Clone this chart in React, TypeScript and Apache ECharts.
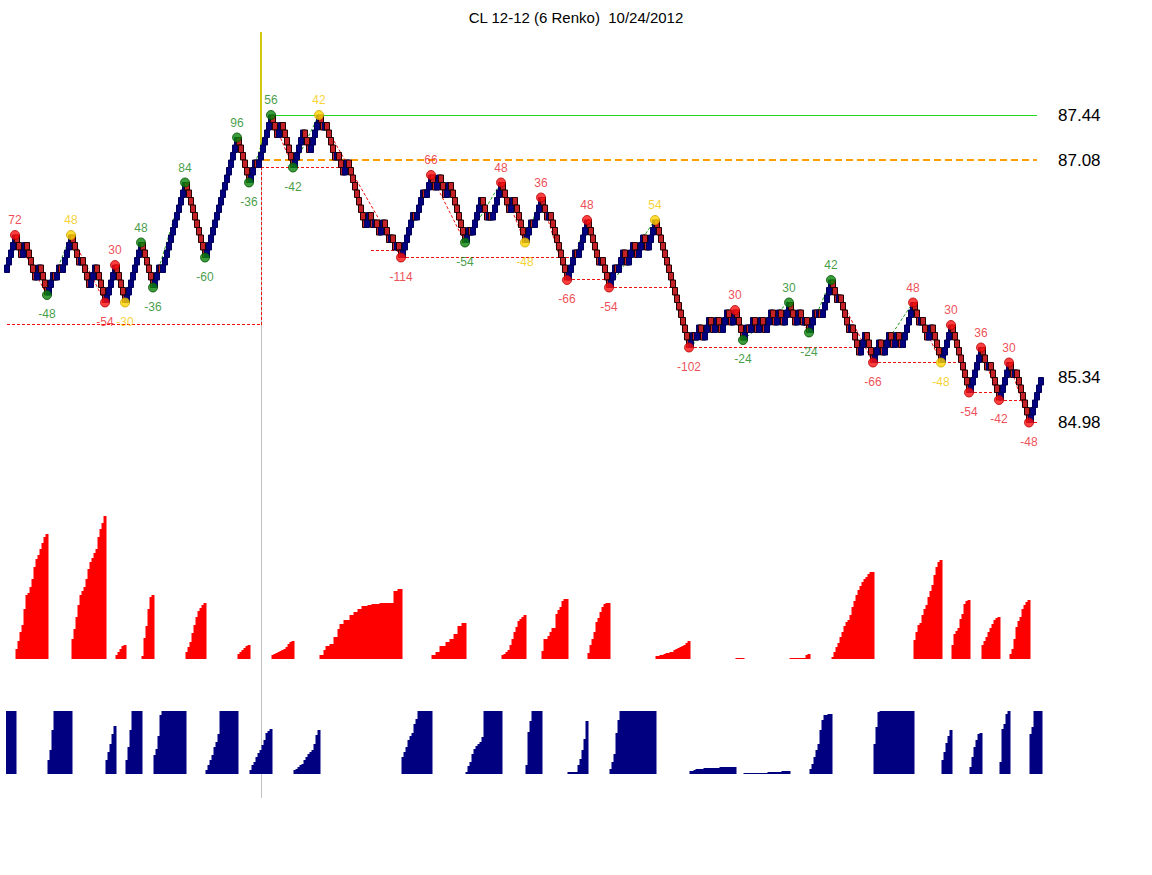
import React, { useEffect, useRef } from "react";
import * as echarts from "echarts";

const TITLE = "CL 12-12 (6 Renko)  10/24/2012";
const FONT = "Liberation Sans, Arial, sans-serif";
const BASE_PRICE = 87.44; // price of brick level 0
const BRICK_SIZE = 0.06;
const START_LEVEL = -21;
const SESSION_BRICK = 127;
const EXTRA_SLOTS = 2;

// signed brick runs for each zigzag wave (even = up wave, odd = down wave)
const waveRuns: number[][] = [
  [5],
  [-3, 2, -5, 2, -4],
  [3, -1, 2, -1, 5],
  [-4, 1, -4, 3, -5],
  [5],
  [-5],
  [8],
  [-6],
  [3, -1, 12],
  [-10],
  [16],
  [-6],
  [3, -1, 7],
  [-3, 2, -6],
  [5, -3, 5],
  [-2, 1, -5, 1, -3, 2, -9, 2, -2, 1, -2, 2, -3, 1, -2, 1, -2],
  [6, -1, 4, -1, 3],
  [-2, 2, -3, 2, -8],
  [2, -1, 5, -3, 1, -1, 5],
  [-4, 2, -6],
  [3, -1, 4],
  [-3, 1, -9],
  [4, -1, 5],
  [-6, 1, -4],
  [3, -1, 3, -2, 3, -2, 3, -2, 4],
  [-17],
  [2, -1, 2, -2, 3, -2, 2, -2, 3, -2, 2],
  [-4],
  [2, -1, 2, -2, 2, -2, 3, -2, 2, -2, 3],
  [-3, 2, -2, 1, -2],
  [3, -1, 1, -1, 5],
  [-3, 1, -5, 1, -4, 3, -4],
  [3, -2, 3, -2, 2, -2, 6],
  [-3, 1, -3, 2, -5],
  [5],
  [-9],
  [6],
  [-3, 1, -5],
  [5],
  [-2, 1, -7],
  [6],
];

// cumulative wave volume per brick (panel units)
const waveVolumes: number[][] = [
  [66, 68, 70, 72, 74],
  [10, 18, 27, 34, 50, 64, 66, 72, 80, 92, 100, 104, 110, 116, 122, 125],
  [14, 24, 44, 64, 70, 76, 82, 88, 92, 96, 100, 104],
  [20, 30, 42, 54, 64, 68, 72, 80, 90, 97, 101, 106, 110, 122, 130, 136, 143],
  [14, 22, 30, 40, 48],
  [4, 7, 10, 13, 14],
  [14, 27, 44, 64, 70, 75, 80, 85],
  [3, 21, 33, 50, 62, 64],
  [19, 25, 38, 59, 66, 72, 78, 84, 90, 95, 100, 104, 108, 112, 116, 120],
  [7, 12, 17, 26, 34, 42, 48, 51, 54, 56],
  [4, 9, 14, 19, 27, 32, 40, 64, 70, 76, 82, 88, 94, 100, 106, 112],
  [5, 7, 9, 11, 13, 14],
  [4, 9, 12, 17, 21, 24, 29, 34, 41, 43, 45],
  [4, 5, 6, 7, 8, 9, 10, 12, 15, 17, 18],
  [4, 5, 7, 9, 10, 14, 17, 20, 22, 24, 30, 39, 44],
  [4, 4, 9, 13, 13, 15, 15, 22, 22, 30, 35, 35, 39, 39, 39, 44, 44, 47, 47, 50, 50, 53, 53, 53, 54, 54, 55, 55, 55, 55, 56, 56, 56, 56, 56, 56, 56, 68, 68, 70, 70],
  [17, 22, 27, 34, 38, 41, 50, 55, 64, 68, 72, 76, 80, 84, 88],
  [4, 4, 7, 7, 13, 13, 13, 17, 17, 20, 20, 25, 25, 33, 33, 36, 36],
  [2, 8, 12, 20, 25, 28, 30, 32, 37, 64, 68, 72, 76, 80, 84, 88, 92, 96],
  [4, 5, 7, 9, 14, 20, 27, 32, 38, 40, 42, 44],
  [9, 42, 53, 64, 70, 76, 82, 88],
  [8, 20, 20, 23, 27, 31, 31, 45, 49, 52, 58, 60, 60],
  [2, 2, 2, 2, 2, 9, 15, 24, 35, 53],
  [6, 14, 20, 27, 37, 41, 47, 52, 55, 56, 56],
  [5, 12, 20, 41, 54, 64, 68, 72, 76, 80, 84, 88, 92, 96, 100, 104, 108, 112, 116, 120, 124, 128, 132],
  [3, 3, 4, 4, 5, 6, 6, 7, 7, 9, 10, 11, 12, 13, 14, 16, 18],
  [3, 3, 4, 5, 5, 5, 5, 6, 6, 6, 6, 6, 6, 6, 6, 7, 7, 7, 7, 7, 7, 7, 7],
  [1, 1, 1, 1],
  [1, 1, 1, 1, 1, 1, 1, 1, 1, 1, 1, 1, 2, 2, 2, 2, 2, 2, 2, 3, 3, 3, 3],
  [1, 1, 1, 1, 1, 1, 1, 1, 4, 5],
  [5, 10, 17, 24, 30, 44, 54, 59, 59, 60, 60],
  [2, 7, 12, 16, 22, 27, 33, 37, 39, 44, 52, 58, 64, 69, 73, 77, 80, 82, 85, 87, 87],
  [30, 47, 62, 66, 70, 74, 78, 82, 86, 90, 94, 98, 102, 106, 110, 114, 118, 122, 126, 130],
  [19, 27, 34, 36, 44, 50, 54, 62, 68, 74, 84, 92, 97, 99],
  [14, 22, 31, 38, 44],
  [14, 25, 28, 31, 40, 45, 55, 58, 59],
  [7, 17, 27, 34, 40, 41],
  [14, 18, 22, 27, 31, 35, 39, 41, 42],
  [12, 45, 50, 60, 63],
  [5, 10, 20, 32, 38, 42, 50, 54, 57, 59],
  [40, 47, 64, 68, 72, 76],
];

// swing labels (ticks) at the end of each wave
const pivotLabels: string[] = [
  "72", "-48", "48", "-54", "30", "-30", "48", "-36", "84", "-60",
  "96", "-36", "56", "-42", "42", "-114", "66", "-54", "48", "-48",
  "36", "-66", "48", "-54", "54", "-102", "30", "-24", "30", "-24",
  "42", "-66", "48", "-48", "30", "-54", "36", "-42", "30", "-48",
];
const pivotColors: string[] = [
  "r", "g", "y", "r", "r", "y", "g", "g", "g", "g",
  "g", "g", "g", "g", "y", "r", "r", "g", "r", "y",
  "r", "r", "r", "r", "y", "r", "r", "g", "g", "g",
  "g", "r", "r", "y", "r", "r", "r", "r", "r", "r",
];

// red dashed support segments: [brick1, level1, brick2, level2]
const supportSegments: number[][] = [
  [0, -28, 127, -28],
  [127, -28, 127, -7],
  [127, -7, 166, -7],
  [182, -18, 197, -18],
  [197, -19, 281, -19],
  [280, -22, 302, -22],
  [301, -23, 333, -23],
  [341, -31, 426, -31],
  [433, -33, 475, -33],
  [481, -37, 495, -37],
  [496, -38, 508, -38],
  [511, -41, 515, -41],
];
const greenLevel = [132, 0, 515];
const orangeLevel = [128, -6, 515];
const priceMarks = ["87.44", "87.08", "85.34", "84.98"];

const PALETTE: Record<string, { fill: string; border: string; text: string }> = {
  r: { fill: "#FF1010", border: "#B00000", text: "#E8202A" },
  g: { fill: "#0A840A", border: "#035003", text: "#128412" },
  y: { fill: "#FFD400", border: "#C9A400", text: "#F4C800" },
};

const price = (k: number) => +(BASE_PRICE + k * BRICK_SIZE).toFixed(4);

function buildData() {
  const candles: number[][] = [];
  const red: (number | string)[] = [];
  const blue: (number | string)[] = [];
  const pivots: { idx: number; k: number }[] = [];
  let lvl = START_LEVEL;
  waveRuns.forEach((runs, w) => {
    const vols = waveVolumes[w];
    const down = w % 2 === 1;
    let j = 0;
    runs.forEach((r) => {
      const d = Math.sign(r);
      for (let i = 0; i < Math.abs(r); i++) {
        const o = price(lvl);
        const c = price(lvl + d);
        candles.push([o, c, Math.min(o, c), Math.max(o, c)]);
        lvl += d;
        const v = vols[j] !== undefined ? vols[j] : 0;
        j++;
        red.push(down ? v : "-");
        blue.push(down ? "-" : v);
      }
    });
    pivots.push({ idx: candles.length - 1, k: lvl });
  });
  return { candles, red, blue, pivots };
}

// straight segments [x1, y1, x2, y2] drawn through the axes of a grid
function segmentSeries(data: number[][], color: string, width: number, dash: number[] | null, z: number, axis = 0) {
  const snap = (v: number) => (width % 2 === 1 ? Math.round(v - 0.5) + 0.5 : Math.round(v));
  return {
    type: "custom",
    xAxisIndex: axis,
    yAxisIndex: axis,
    silent: true,
    z,
    clip: false,
    encode: { x: [0, 2], y: [1, 3] },
    data,
    renderItem: (params: any, api: any) => {
      const p1 = api.coord([api.value(0), api.value(1)]);
      const p2 = api.coord([api.value(2), api.value(3)]);
      let x1 = p1[0], y1 = p1[1], x2 = p2[0], y2 = p2[1];
      if (Math.abs(y1 - y2) < 0.01) {
        y1 = y2 = snap(y1);
      }
      if (Math.abs(x1 - x2) < 0.01) {
        x1 = x2 = snap(x1);
      }
      return {
        type: "line",
        shape: { x1, y1, x2, y2 },
        style: { stroke: color, lineWidth: width, lineDash: dash || undefined, fill: null },
      };
    },
  };
}

export default function App() {
  const ref = useRef<HTMLDivElement>(null);
  useEffect(() => {
    document.body.style.margin = "0";
    if (!ref.current) return;
    const chart = echarts.init(ref.current, undefined, { renderer: "svg" });
    const { candles, red, blue, pivots } = buildData();
    const n = candles.length + EXTRA_SLOTS;
    const cats = Array.from({ length: n }, (_, i) => String(i));

    const left = 6;
    const slot = 2;
    const width = n * slot;
    const mainTop = 32;
    const mainHeight = 468;
    const kTop = (115 - mainTop) / 7.5;
    const kBottom = kTop - mainHeight / 7.5;
    const yMax = price(kTop);
    const yMin = price(kBottom);

    const grids = [
      { left, top: mainTop, width, height: mainHeight },
      { left, top: 514, width, height: 145 },
      { left, top: 711, width, height: 63 },
      { left, top: 32, width, height: 766 },
    ];
    const xAxes = grids.map((_, i) => ({
      type: "category",
      gridIndex: i,
      data: cats,
      show: false,
      boundaryGap: true,
    }));
    const yAxes = [
      { type: "value", gridIndex: 0, min: yMin, max: yMax, show: false, splitLine: { show: false } },
      { type: "value", gridIndex: 1, min: 0, max: 145, show: false, splitLine: { show: false } },
      { type: "value", gridIndex: 2, min: 0, max: 63, show: false, splitLine: { show: false } },
      { type: "value", gridIndex: 3, min: 0, max: 1, show: false, splitLine: { show: false } },
    ];

    // zigzag legs
    const zzPoints = [{ idx: 0, k: START_LEVEL }, ...pivots];
    const zzUp: number[][] = [];
    const zzDown: number[][] = [];
    for (let i = 1; i < zzPoints.length; i++) {
      const a = zzPoints[i - 1];
      const b = zzPoints[i];
      const seg = [a.idx, price(a.k), b.idx, price(b.k)];
      (b.k > a.k ? zzUp : zzDown).push(seg);
    }

    const supports = supportSegments.map((s) => [s[0], price(s[1]), s[2], price(s[3])]);

    const markers = pivots.slice(0, pivotLabels.length).map((p, i) => {
      const pal = PALETTE[pivotColors[i]];
      const high = i % 2 === 0;
      return {
        value: [p.idx, price(p.k)],
        itemStyle: { color: pal.fill, borderColor: pal.border, borderWidth: 1 },
        label: {
          show: true,
          formatter: pivotLabels[i],
          position: high ? "top" : "bottom",
          distance: high ? 4 : 8,
          color: pal.text,
          fontSize: 12,
          fontFamily: FONT,
        },
      };
    });

    chart.setOption({
      animation: false,
      backgroundColor: "#ffffff",
      title: {
        text: TITLE,
        left: "center",
        top: 5,
        textStyle: { fontSize: 15, fontWeight: "normal", color: "#000", fontFamily: FONT },
      },
      grid: grids,
      xAxis: xAxes,
      yAxis: yAxes,
      series: [
        segmentSeries([[SESSION_BRICK, 0, SESSION_BRICK, 1]], "#C0C0C0", 1, null, 0, 3),
        segmentSeries(
          [[orangeLevel[0], price(orangeLevel[1]), orangeLevel[2], price(orangeLevel[1])]],
          "#FFA000",
          2,
          [7, 4],
          1
        ),
        segmentSeries(
          [[greenLevel[0], price(greenLevel[1]), greenLevel[2], price(greenLevel[1])]],
          "#1ED81E",
          1,
          null,
          1
        ),
        segmentSeries([[SESSION_BRICK, yMax, SESSION_BRICK, price(orangeLevel[1])]], "#D2C814", 2, null, 1),
        segmentSeries(supports, "#F01010", 1, [3, 2], 1),
        segmentSeries(zzUp, "#1E9E1E", 1, [3, 2], 1),
        segmentSeries(zzDown, "#F01010", 1, [3, 2], 1),
        {
          type: "candlestick",
          xAxisIndex: 0,
          yAxisIndex: 0,
          z: 2,
          barWidth: 5,
          barMinWidth: 5,
          barMaxWidth: 5,
          data: candles,
          itemStyle: {
            color: "#000080",
            color0: "#C42226",
            borderColor: "#00005A",
            borderColor0: "#200000",
            borderWidth: 1,
          },
          markLine: {
            silent: true,
            symbol: ["none", "none"],
            lineStyle: { color: "rgba(0,0,0,0)", width: 1 },
            label: {
              show: true,
              position: "end",
              distance: 12,
              color: "#000",
              fontSize: 17,
              fontFamily: FONT,
            },
            data: priceMarks.map((m) => ({
              yAxis: Number(m),
              label: { formatter: m },
            })),
          },
        },
        {
          type: "scatter",
          xAxisIndex: 0,
          yAxisIndex: 0,
          z: 5,
          symbol: "circle",
          symbolSize: 9,
          data: markers,
        },
        {
          type: "bar",
          xAxisIndex: 1,
          yAxisIndex: 1,
          barWidth: 3,
          clip: true,
          itemStyle: { color: "#FF0000" },
          data: red,
        },
        {
          type: "bar",
          xAxisIndex: 2,
          yAxisIndex: 2,
          barWidth: 3,
          clip: true,
          itemStyle: { color: "#000080" },
          data: blue,
        },
      ],
    });
    return () => chart.dispose();
  }, []);
  return <div ref={ref} style={{ width: 1152, height: 875 }} />;
}
